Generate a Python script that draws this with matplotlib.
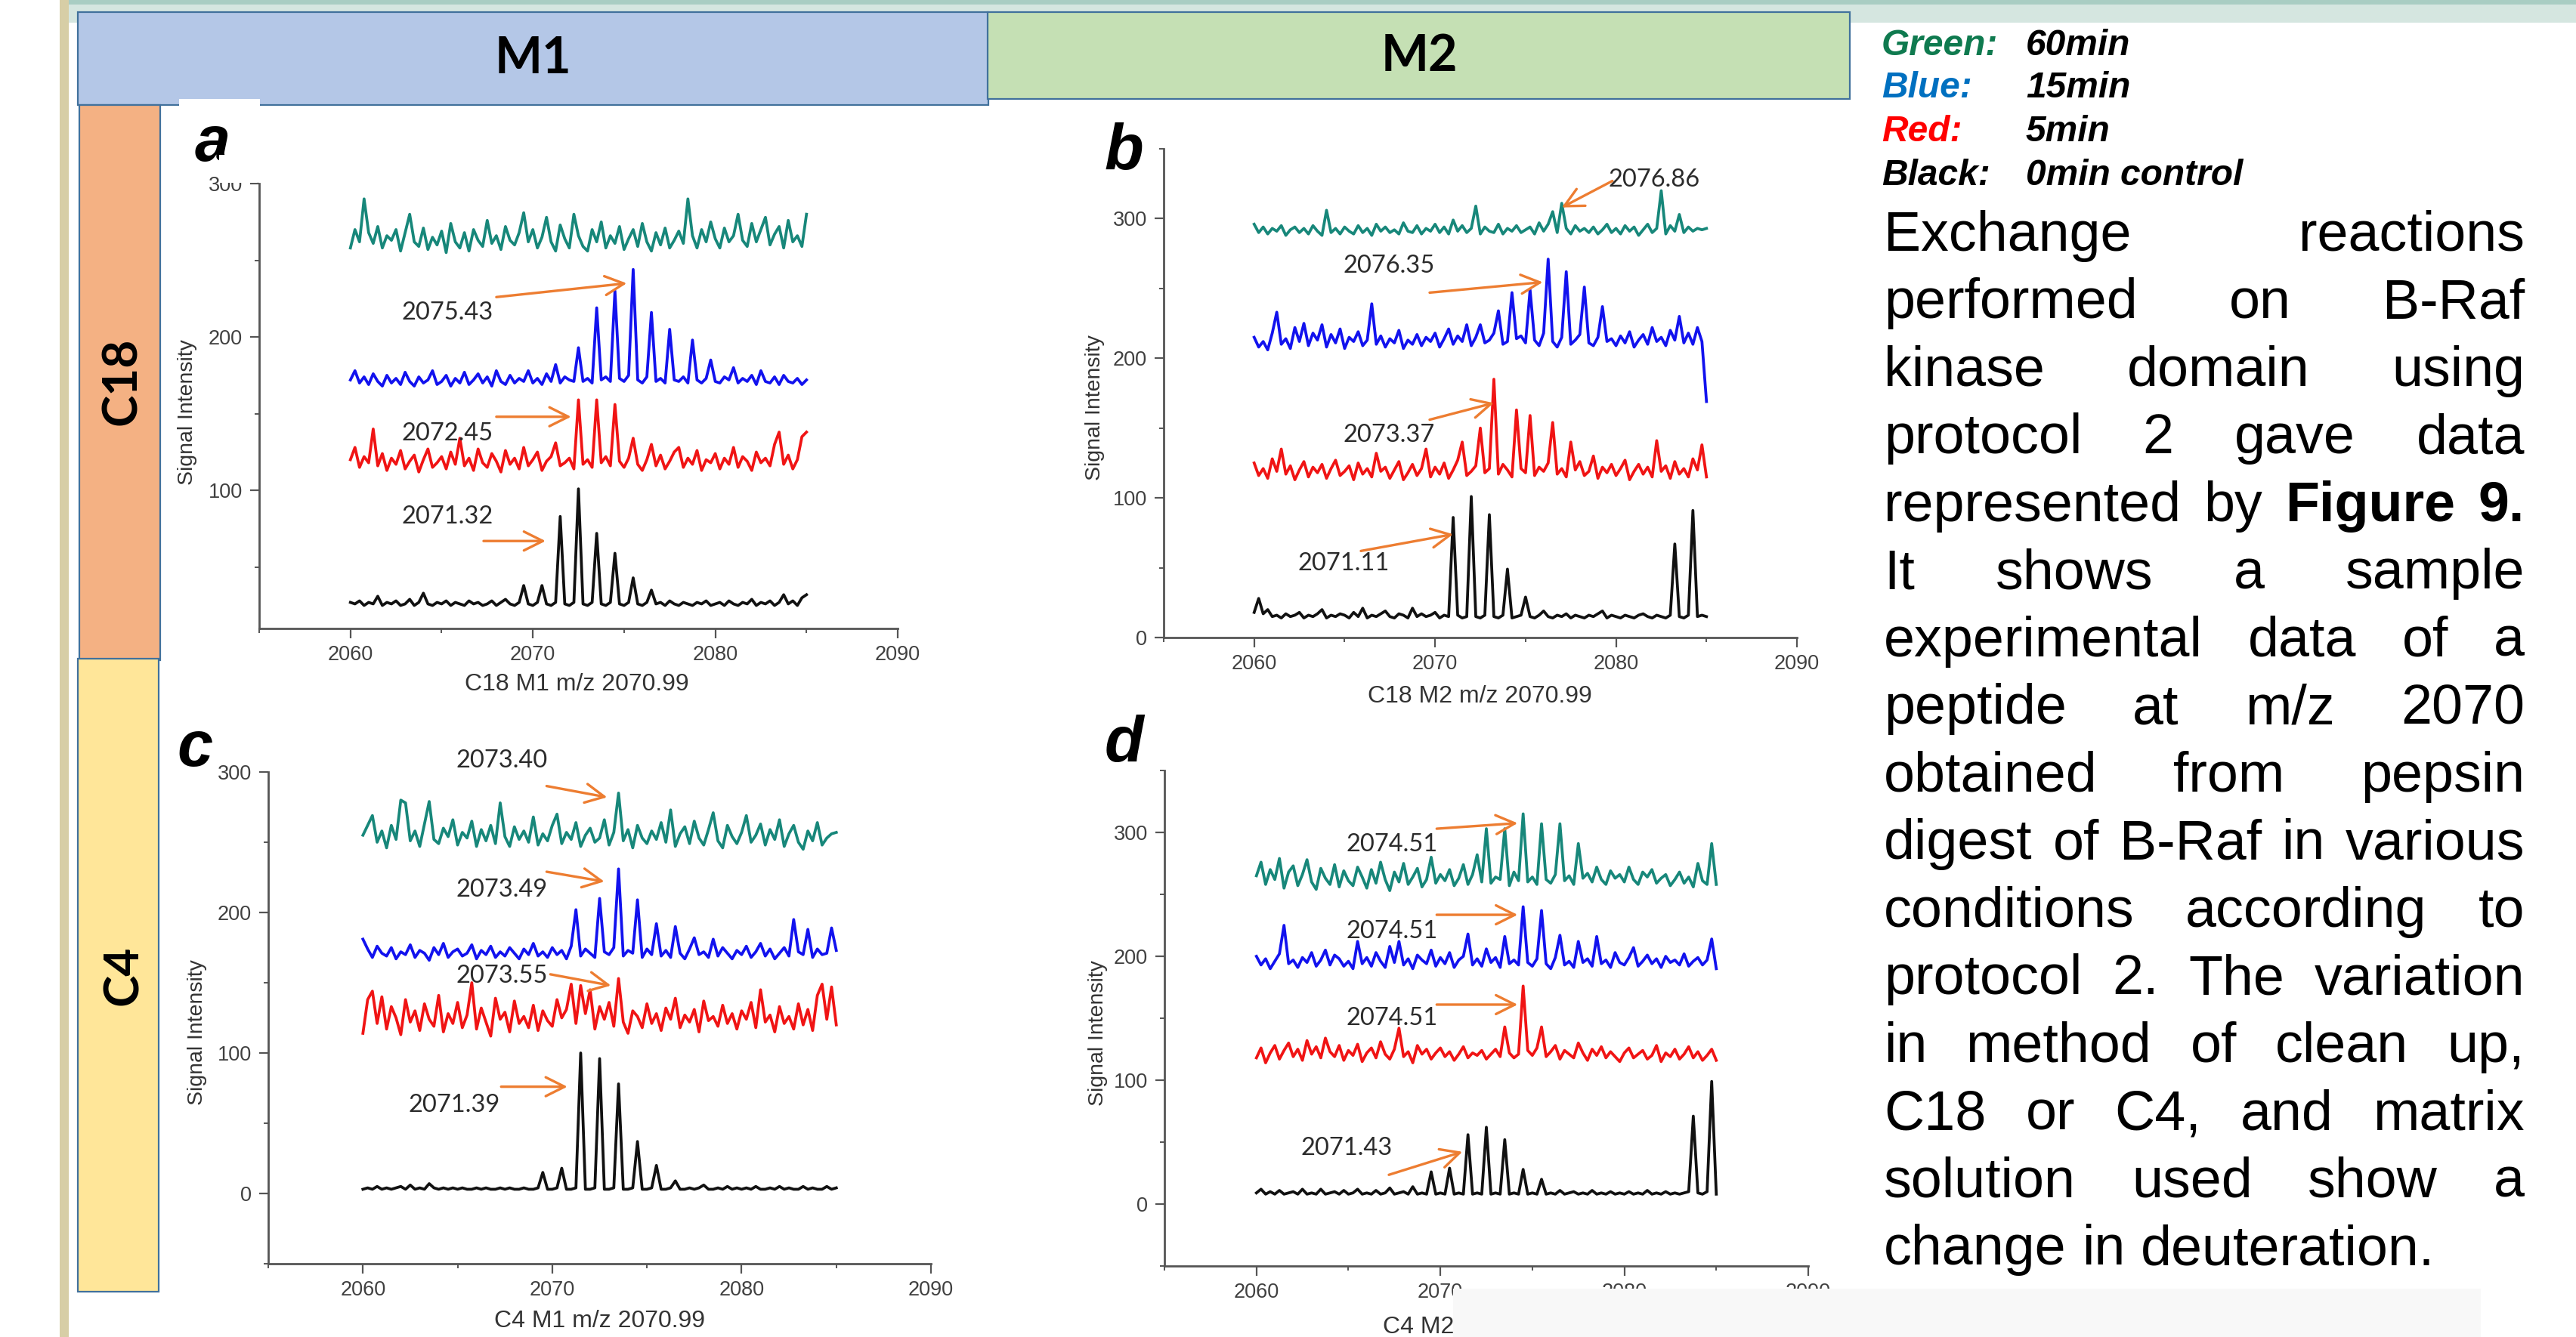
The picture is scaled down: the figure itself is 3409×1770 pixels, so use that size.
import matplotlib.pyplot as plt
import numpy as np
from matplotlib.patches import Rectangle
from matplotlib.ticker import MultipleLocator

plt.rcParams['font.family'] = ['Liberation Sans', 'DejaVu Sans']

# m/z sampling of every trace: 2060 .. 2085 in steps of 0.25
mz = np.linspace(2060, 2085, 101)

# ---------------- panel a : C18 / M1 ----------------
a_teal = [258, 270, 262, 290, 268, 261, 272, 258, 266, 263, 270, 256, 268, 280, 262, 259, 271, 257, 265, 260,
          269, 255, 274, 262, 258, 268, 256, 270, 263, 259, 276, 261, 266, 257, 272, 263, 260, 268, 281, 262,
          270, 258, 265, 278, 262, 256, 273, 264, 258, 280, 266, 259, 256, 270, 262, 275, 258, 266, 261, 272,
          257, 264, 270, 259, 274, 262, 256, 268, 260, 271, 258, 263, 269, 261, 290, 266, 258, 270, 262, 275,
          264, 258, 271, 262, 266, 280, 263, 259, 274, 262, 270, 278, 260, 267, 272, 258, 276, 262, 266, 259, 280]
a_blue = [172, 178, 170, 174, 169, 176, 171, 168, 175, 170, 173, 169, 177, 171, 168, 174, 170, 172, 178, 169,
          171, 175, 168, 173, 170, 177, 169, 172, 176, 170, 174, 168, 178, 171, 169, 175, 170, 173, 171, 178,
          170, 173, 169, 176, 171, 182, 170, 174, 172, 171, 193, 171, 173, 170, 219, 172, 174, 171, 230, 173,
          171, 175, 244, 172, 170, 174, 216, 171, 173, 170, 205, 172, 171, 174, 170, 198, 172, 170, 173, 185,
          171, 170, 174, 172, 180, 170, 173, 171, 175, 169, 178, 171, 170, 174, 169, 175, 171, 170, 173, 169, 172]
a_red = [120, 128, 115, 122, 118, 140, 116, 124, 113, 121, 117, 126, 114, 119, 123, 112, 120, 127, 115, 118,
         122, 114, 125, 117, 134, 116, 121, 113, 127, 118, 115, 124, 119, 112, 126, 117, 121, 114, 128, 116,
         120, 125, 113, 119, 122, 131, 116, 118, 121, 114, 159, 117, 120, 115, 159, 118, 122, 116, 156, 119,
         115, 121, 134, 117, 113, 120, 130, 116, 123, 114, 119, 125, 128, 115, 121, 117, 126, 113, 120, 118,
         124, 114, 121, 117, 128, 115, 122, 119, 113, 125, 118, 121, 116, 130, 138, 117, 123, 114, 120, 135, 138]
a_black = [27, 26, 28, 25, 27, 26, 31, 25, 27, 26, 28, 25, 26, 29, 25, 27, 33, 26, 25, 27,
           26, 28, 25, 27, 26, 25, 28, 26, 27, 25, 26, 28, 25, 27, 29, 26, 25, 27, 38, 26,
           25, 27, 38, 26, 25, 27, 83, 26, 25, 27, 101, 26, 25, 27, 72, 26, 25, 27, 59, 26,
           25, 27, 43, 26, 25, 27, 35, 26, 27, 25, 28, 26, 25, 27, 26, 25, 27, 26, 28, 25,
           26, 27, 25, 28, 26, 25, 27, 26, 29, 25, 27, 26, 28, 25, 27, 32, 26, 28, 25, 30, 32]

# ---------------- panel b : C18 / M2 ----------------
b_teal = [296, 290, 294, 289, 293, 291, 295, 288, 292, 294, 290, 293, 289, 295, 291, 288, 306, 290, 293, 289,
          294, 291, 289, 295, 290, 293, 288, 296, 291, 294, 290, 292, 289, 297, 291, 290, 295, 289, 293, 291,
          296, 290, 294, 289, 299, 291, 295, 290, 293, 309, 289, 294, 291, 290, 296, 289, 293, 291, 295, 290,
          292, 294, 289, 297, 291, 296, 305, 290, 311, 293, 289, 295, 291, 293, 290, 294, 289, 292, 296, 290,
          293, 289, 295, 291, 294, 288, 292, 296, 290, 293, 320, 289, 295, 291, 303, 290, 294, 291, 293, 292, 293]
b_blue = [215, 208, 212, 206, 218, 233, 210, 214, 207, 222, 212, 225, 209, 218, 213, 224, 208, 217, 211, 221,
          207, 215, 212, 219, 209, 213, 239, 210, 216, 208, 214, 211, 220, 207, 213, 210, 217, 209, 215, 212,
          218, 208, 214, 221, 210, 216, 212, 224, 209, 215, 224, 211, 213, 218, 234, 210, 212, 247, 214, 216,
          211, 249, 213, 209, 218, 271, 212, 208, 215, 262, 210, 213, 217, 251, 211, 209, 215, 237, 212, 214,
          209, 216, 211, 219, 208, 213, 217, 210, 222, 212, 215, 209, 220, 213, 230, 211, 218, 210, 222, 212, 169]
b_red = [125, 116, 121, 114, 128, 119, 135, 117, 123, 113, 120, 126, 115, 122, 118, 124, 114, 121, 127, 116,
         119, 123, 113, 125, 117, 121, 115, 132, 119, 122, 114, 120, 126, 113, 118, 124, 116, 121, 135, 115,
         122, 117, 125, 114, 120, 127, 140, 116, 119, 123, 150, 118, 121, 185, 117, 124, 120, 115, 163, 121,
         118, 159, 116, 122, 119, 125, 154, 117, 121, 115, 140, 120, 126, 116, 119, 130, 114, 122, 118, 124,
         116, 121, 127, 113, 119, 124, 117, 122, 115, 141, 119, 123, 114, 126, 117, 121, 115, 128, 120, 138, 115]
b_black = [18, 28, 17, 20, 15, 16, 14, 17, 15, 16, 18, 14, 16, 15, 17, 20, 14, 16, 15, 17,
           16, 14, 18, 15, 21, 14, 16, 15, 17, 19, 15, 14, 17, 16, 14, 21, 15, 17, 15, 16,
           18, 14, 16, 15, 86, 16, 14, 15, 101, 15, 14, 16, 88, 15, 14, 16, 49, 14, 15, 16,
           29, 15, 14, 16, 19, 15, 14, 16, 15, 17, 14, 16, 15, 14, 16, 15, 17, 19, 14, 16,
           15, 14, 16, 15, 14, 16, 17, 15, 14, 16, 15, 14, 16, 67, 15, 14, 16, 91, 15, 16, 15]

# ---------------- panel c : C4 / M1 ----------------
c_teal = [255, 262, 269, 250, 258, 246, 262, 252, 280, 278, 251, 258, 247, 263, 279, 252, 249, 260, 254, 266,
          248, 257, 253, 265, 247, 259, 251, 262, 249, 278, 254, 247, 261, 252, 258, 250, 268, 248, 256, 251,
          262, 270, 249, 257, 252, 264, 247, 255, 260, 250, 253, 266, 248, 257, 285, 251, 259, 246, 262, 253,
          249, 258, 252, 264, 250, 273, 247, 256, 261, 249, 265, 253, 248, 259, 271, 251, 246, 262, 254, 249,
          257, 269, 250, 255, 263, 248, 259, 252, 266, 247, 256, 262, 250, 245, 258, 251, 264, 248, 253, 256, 257]
c_blue = [181, 174, 168, 176, 171, 169, 175, 167, 172, 170, 177, 168, 173, 171, 166, 175, 170, 178, 168, 172,
          174, 169, 171, 177, 167, 173, 170, 176, 168, 172, 169, 175, 171, 167, 174, 170, 178, 169, 172, 168,
          175, 170, 173, 167, 176, 202, 169, 174, 171, 168, 210, 172, 170, 175, 231, 169, 173, 171, 209, 168,
          174, 170, 192, 169, 173, 168, 190, 171, 167, 174, 182, 170, 172, 168, 181, 169, 175, 171, 167, 173,
          170, 176, 168, 172, 178, 169, 174, 167, 171, 175, 169, 195, 172, 170, 188, 168, 174, 170, 171, 189, 173]
c_red = [114, 138, 144, 121, 140, 117, 133, 125, 113, 138, 122, 130, 116, 135, 124, 119, 141, 115, 128, 121,
         136, 118, 127, 150, 117, 132, 122, 112, 139, 124, 129, 115, 137, 121, 126, 118, 134, 116, 130, 123,
         119, 138, 125, 131, 149, 121, 148, 128, 145, 117, 133, 124, 136, 119, 153, 122, 114, 130, 126, 118,
         135, 121, 128, 116, 132, 124, 139, 118, 127, 122, 131, 115, 137, 123, 126, 119, 134, 121, 128, 117,
         130, 124, 136, 118, 145, 122, 127, 115, 133, 121, 126, 117, 135, 120, 131, 116, 141, 149, 124, 147, 120]
c_black = [3, 4, 3, 5, 3, 4, 3, 4, 5, 3, 6, 3, 4, 3, 7, 4, 3, 4, 3, 4,
           3, 4, 3, 3, 4, 3, 4, 3, 3, 4, 3, 4, 3, 3, 4, 3, 3, 4, 15, 3,
           3, 4, 18, 3, 3, 4, 100, 3, 3, 4, 96, 3, 3, 4, 78, 3, 3, 4, 37, 3,
           3, 4, 20, 3, 3, 4, 9, 3, 3, 4, 3, 4, 6, 3, 3, 4, 3, 5, 3, 4,
           3, 4, 3, 5, 3, 3, 4, 3, 5, 3, 4, 3, 3, 5, 3, 4, 3, 3, 5, 3, 4]

# ---------------- panel d : C4 / M2 ----------------
d_teal = [265, 276, 258, 270, 262, 279, 255, 268, 273, 257, 266, 278, 260, 254, 271, 263, 258, 274, 256, 269,
          261, 257, 272, 264, 255, 270, 259, 276, 262, 253, 268, 260, 275, 258, 264, 271, 256, 262, 280, 259,
          266, 261, 270, 257, 263, 274, 258, 266, 282, 260, 303, 259, 264, 262, 303, 257, 268, 261, 315, 260,
          264, 258, 307, 262, 259, 266, 307, 261, 265, 258, 291, 263, 267, 260, 272, 262, 258, 269, 263, 266,
          260, 272, 262, 258, 268, 264, 270, 259, 263, 266, 257, 262, 268, 259, 264, 256, 275, 261, 258, 291, 258]
d_blue = [200, 193, 198, 190, 196, 202, 225, 194, 197, 191, 199, 195, 203, 192, 197, 205, 193, 201, 198, 192,
          196, 190, 212, 194, 199, 192, 203, 196, 191, 208, 195, 212, 193, 198, 190, 201, 197, 194, 205, 192,
          199, 194, 203, 191, 197, 200, 218, 193, 198, 192, 206, 195, 199, 191, 216, 194, 197, 193, 240, 195,
          192, 198, 237, 194, 190, 199, 217, 193, 196, 191, 212, 195, 198, 192, 216, 194, 197, 191, 203, 195,
          193, 199, 207, 192, 196, 201, 194, 198, 191, 200, 195, 197, 193, 202, 192, 196, 199, 193, 197, 214, 190]
d_red = [118, 126, 114, 122, 128, 117, 124, 130, 119, 125, 116, 132, 121, 127, 118, 134, 123, 119, 128, 116,
         124, 120, 129, 115, 122, 126, 118, 131, 121, 117, 125, 142, 119, 123, 114, 128, 121, 125, 117, 122,
         126, 119, 123, 116, 121, 127, 118, 122, 120, 124, 117, 121, 125, 119, 143, 122, 118, 121, 176, 124,
         120, 126, 143, 119, 123, 128, 117, 124, 121, 118, 130, 122, 116, 125, 120, 127, 118, 123, 119, 115,
         122, 126, 118, 121, 124, 117, 120, 128, 115, 122, 119, 125, 117, 121, 127, 118, 123, 116, 120, 125, 116]
d_black = [9, 12, 8, 10, 8, 11, 8, 9, 10, 8, 12, 8, 9, 8, 12, 8, 9, 10, 8, 11,
           8, 9, 12, 8, 9, 8, 11, 8, 9, 13, 8, 9, 10, 8, 14, 8, 9, 8, 26, 8,
           9, 8, 29, 8, 9, 8, 56, 8, 9, 8, 62, 8, 9, 8, 52, 8, 9, 8, 28, 8,
           9, 8, 20, 8, 9, 8, 11, 8, 9, 10, 8, 9, 8, 11, 8, 9, 8, 10, 8, 9,
           8, 10, 8, 9, 8, 11, 8, 9, 8, 10, 8, 9, 8, 9, 10, 71, 9, 8, 10, 99, 8]

# peak labels: (text, label x, label y, arrow tail, arrow head)
a_notes = [('2075.43', 2062.8, 216, (2068.0, 226), (2075.15, 235)),
           ('2072.45', 2062.8, 137, (2068.0, 148), (2072.1, 148)),
           ('2071.32', 2062.8, 83, (2067.3, 67), (2070.7, 67))]
b_notes = [('2076.86', 2079.6, 328, (2079.8, 327), (2077.0, 308)),
           ('2076.35', 2064.9, 266, (2069.7, 247), (2075.95, 254.5)),
           ('2073.37', 2064.9, 145, (2069.7, 156), (2073.25, 168)),
           ('2071.11', 2062.4, 53, (2065.9, 62), (2071.0, 74))]
c_notes = [('2073.40', 2064.9, 308, (2069.7, 290), (2072.9, 282)),
           ('2073.49', 2064.9, 216, (2069.7, 229), (2072.75, 222)),
           ('2073.55', 2064.9, 155, (2069.9, 156), (2073.1, 148)),
           ('2071.39', 2062.4, 63, (2067.3, 76), (2070.8, 76))]
d_notes = [('2074.51', 2064.9, 290, (2069.8, 303), (2074.2, 307.5)),
           ('2074.51', 2064.9, 220, (2069.8, 233.5), (2074.2, 233.5)),
           ('2074.51', 2064.9, 150, (2069.8, 161), (2074.2, 161)),
           ('2071.43', 2062.4, 45, (2067.2, 23.6), (2071.2, 42.2))]

trace_colors = ['#17877a', '#1212ee', '#f01414', '#111111']

legend_names = ['Green:', 'Blue:', 'Red:', 'Black:']
legend_colors = ['#0f7a4f', '#0070c0', '#ff0000', '#000000']
legend_times = ['60min', '15min', '5min', '0min control']

para_lines = ['Exchange reactions',
              'performed on B-Raf',
              'kinase domain using',
              'protocol 2 gave data',
              'represented by Figure 9.',
              'It shows a sample',
              'experimental data of a',
              'peptide at m/z 2070',
              'obtained from pepsin',
              'digest of B-Raf in various',
              'conditions according to',
              'protocol 2. The variation',
              'in method of clean up,',
              'C18 or C4, and matrix',
              'solution used show a',
              'change in deuteration.']

W, H = 3409, 1770
fig = plt.figure(figsize=(W / 100, H / 100), dpi=100)


def fx(x):
    return x / W


def fy(y):
    return 1 - y / H


def rect(x0, y0, x1, y1, fc, ec='none', lw=0, z=1):
    fig.patches.append(Rectangle((fx(x0), fy(y1)), (x1 - x0) / W, (y1 - y0) / H,
                                 transform=fig.transFigure, fc=fc, ec=ec, lw=lw, zorder=z))


# slide decoration
rect(79, 0, 91, H, '#d7cea6')
rect(91, 0, W, 6, '#a9cdc3')
rect(91, 6, W, 30, '#d5e6e0')
rect(103, 16, 1308, 139, '#b4c7e7', '#41719c', 1.6, 2)
rect(1307, 16, 2448, 131, '#c5e0b4', '#41719c', 1.6, 2)
rect(105, 139, 212, 874, '#f4b183', '#41719c', 1.6, 2)
rect(103, 872, 210, 1710, '#ffe699', '#41719c', 1.6, 2)
rect(237, 131, 344, 142, 'white', z=3)

fig.text(fx(705), fy(78), 'M1', family='Lato', weight='bold', fontsize=48, ha='center', va='center', zorder=4)
fig.text(fx(1878), fy(75), 'M2', family='Lato', weight='bold', fontsize=48, ha='center', va='center', zorder=4)
fig.text(fx(161), fy(505), 'C18', family='Lato', weight='bold', fontsize=46, rotation=90,
         ha='center', va='center', zorder=4)
fig.text(fx(163), fy(1291), 'C4', family='Lato', weight='bold', fontsize=46, rotation=90,
         ha='center', va='center', zorder=4)


def panel(box, ylim, traces, notes, letter, letter_xy, ylab_xy, xlab, xlab_xy, xlab_ha='center'):
    x0, y0, x1, y1 = box
    ax = fig.add_axes([fx(x0), fy(y1), (x1 - x0) / W, (y1 - y0) / H])
    ax.patch.set_alpha(0)
    for vals, col in zip(traces, trace_colors):
        ax.plot(mz, vals, color=col, lw=2.7)
    for txt, lx, ly, tail, head in notes:
        ax.annotate('', xy=head, xytext=tail,
                    arrowprops=dict(arrowstyle='->,head_length=0.9,head_width=0.45', color='#ed7d31',
                                    lw=2.4, mutation_scale=20, shrinkA=0, shrinkB=0))
        ax.text(lx, ly, txt, family='Lato', fontsize=23.5, color='#2b2b2b', ha='left', va='center')
    ax.set_xlim(2055, 2090)
    ax.set_ylim(*ylim)
    ax.xaxis.set_major_locator(MultipleLocator(10))
    ax.xaxis.set_minor_locator(MultipleLocator(5))
    ax.yaxis.set_major_locator(MultipleLocator(100))
    ax.yaxis.set_minor_locator(MultipleLocator(50))
    for s in ['top', 'right']:
        ax.spines[s].set_visible(False)
    for s in ['left', 'bottom']:
        ax.spines[s].set_color('#555555')
        ax.spines[s].set_linewidth(2)
    ax.tick_params(which='major', length=9, width=1.6, color='#555555', labelsize=19.5,
                   labelcolor='#404040', pad=7)
    ax.tick_params(which='minor', length=4, width=1.4, color='#555555')
    fig.text(fx(letter_xy[0]), fy(letter_xy[1]), letter, fontsize=61, weight='bold', style='italic',
             ha='left', va='baseline')
    fig.text(fx(ylab_xy[0]), fy(ylab_xy[1]), 'Signal Intensity', fontsize=20.5, color='#333333',
             rotation=90, ha='center', va='center')
    fig.text(fx(xlab_xy[0]), fy(xlab_xy[1]), xlab, fontsize=23, color='#333333',
             ha=xlab_ha, va='center')
    return ax


panel((343, 243, 1188, 832), (10, 300), [a_teal, a_blue, a_red, a_black], a_notes,
      'a', (258, 213), (248, 546), 'C18 M1 m/z 2070.99', (763, 906))
panel((1540, 197, 2378, 844), (0, 350), [b_teal, b_blue, b_red, b_black], b_notes,
      'b', (1462, 224), (1449, 540), 'C18 M2 m/z 2070.99', (1958, 922))
panel((355, 1022, 1232, 1673), (-50, 300), [c_teal, c_blue, c_red, c_black], c_notes,
      'c', (234, 1014), (261, 1367), 'C4 M1 m/z 2070.99', (793, 1749))
panel((1541, 1020, 2393, 1676), (-50, 350), [d_teal, d_blue, d_red, d_black], d_notes,
      'd', (1462, 1008), (1453, 1368), 'C4 M2 m/z 2070.99', (1830, 1757), 'left')

# patches that hide parts of the pasted plots
rect(290, 205, 340, 242, 'white', z=10)
rect(1923, 1706, 3283, H, '#f8f8f8', z=10)

# colour legend
leg_base = [73, 129, 187, 245]
for name, col, t, yb in zip(legend_names, legend_colors, legend_times, leg_base):
    fig.text(fx(2490), fy(yb), name, color=col, fontsize=34.5, weight='bold', style='italic', va='baseline')
    fig.text(fx(2681), fy(yb), t, color='black', fontsize=34.5, weight='bold', style='italic', va='baseline')

# justified paragraph
renderer = fig.canvas.get_renderer()
para_left, para_right = 2493, 3341
para_first, para_step = 332, 89.47
space_px = 0.278 * 53 * 100 / 72
for i, line in enumerate(para_lines):
    yb = para_first + i * para_step
    words = line.split(' ')
    objs = []
    for w in words:
        bold = i == 4 and w in ('Figure', '9.')
        objs.append(fig.text(0, fy(yb), w, fontsize=53, weight='bold' if bold else 'normal',
                             ha='left', va='baseline'))
    widths = [t.get_window_extent(renderer).width for t in objs]
    if i == len(para_lines) - 1 or len(words) == 1:
        gap = space_px
    else:
        gap = (para_right - para_left - sum(widths)) / (len(words) - 1)
    x = para_left
    for t, wd in zip(objs, widths):
        t.set_x(fx(x))
        x += wd + gap

fig.savefig('out.png', dpi=100)
